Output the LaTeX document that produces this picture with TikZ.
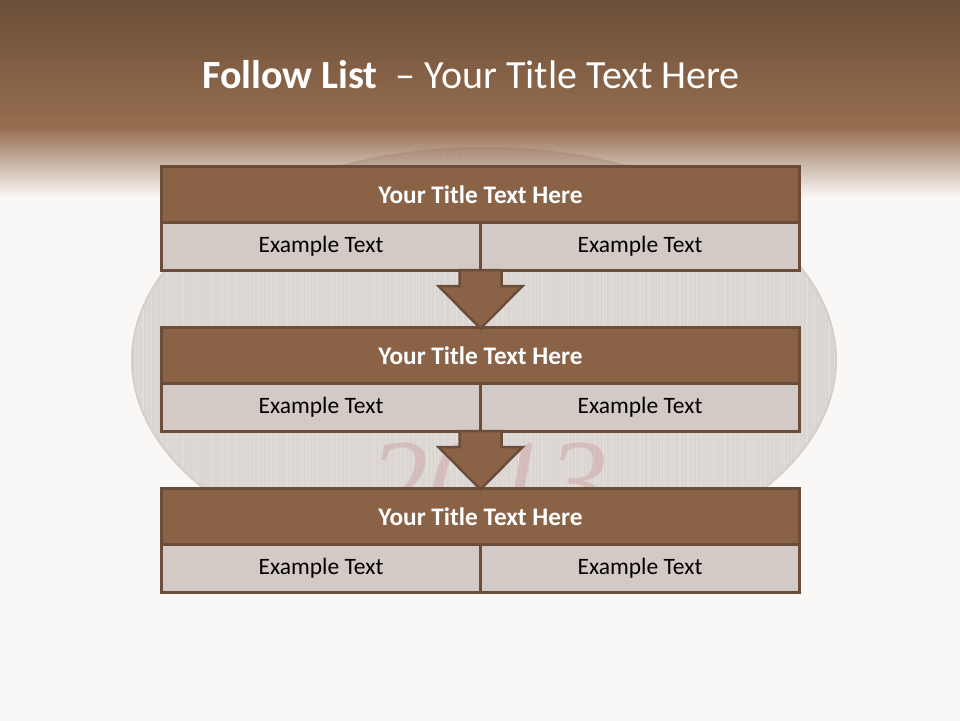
\documentclass[tikz,border=0pt]{standalone}
\usepackage{fontspec}
\setmainfont{Carlito}
\newfontfamily\yearfont{Liberation Serif}
\usetikzlibrary{fadings,calc}
\tikzfading[name=fadedown, top color=transparent!0, bottom color=transparent!100]
\definecolor{bg}{HTML}{FAF8F6}
\definecolor{hdtop}{HTML}{694D37}
\definecolor{hdbot}{HTML}{976E50}
\definecolor{tbar}{HTML}{8A6246}
\definecolor{bord}{HTML}{6B4D3A}
\definecolor{cell}{HTML}{D3CAC5}
\definecolor{ellfill}{HTML}{DBD6D2}
\definecolor{ellline}{HTML}{D6CEC8}
\definecolor{yearcol}{HTML}{C99A98}
\begin{document}
\begin{tikzpicture}[x=1pt,y=-1pt,
  titlebar/.style={draw=bord, fill=tbar, line width=3pt, minimum width=638pt, minimum height=56pt,
    inner sep=0pt, outer sep=0pt, anchor=north west, text=white, font=\bfseries\fontsize{25.3}{28}\selectfont},
  cellbox/.style={draw=bord, fill=cell, line width=3pt, minimum height=47.5pt,
    inner sep=0pt, outer sep=0pt, anchor=north west, text=black, font=\fontsize{23.5}{28}\selectfont},
  blockarrow/.style={fill=tbar, draw=bord, line width=2.5pt, line join=miter}]
\useasboundingbox (0,0) rectangle (960,720);
\fill[bg] (-5,-5) rectangle (965,725);
% background ellipse with texture
\fill[ellfill, draw=ellline, line width=2pt] (484,360) ellipse [x radius=352, y radius=212];
\begin{scope}
  \clip (484,360) ellipse [x radius=351, y radius=211];
  \pgfmathsetseed{7}
  \foreach \i in {0,...,230} {
    \pgfmathsetmacro{\xx}{132+3.05*\i+1.5*rand}
    \pgfmathsetmacro{\op}{0.10+0.10*rnd}
    \draw[white, opacity=\op, line width=0.9pt] (\xx,148) -- (\xx,572);
  }
  \node[text=yearcol, opacity=0.42, font=\yearfont\itshape\fontsize{120}{120}\selectfont, anchor=base] (year) at (488,522) {2013};
\end{scope}
% header
\shade[top color=hdtop, bottom color=hdbot] (-5,-5) rectangle (965,128);
\fill[hdbot, path fading=fadedown] (-5,127) rectangle (965,197);
\node[text=white, anchor=base, font=\fontsize{40}{48}\selectfont] (title) at (471,88)
  {\textbf{Follow List}\ \ – Your Title Text Here};
% boxes
\foreach \k/\yy in {1/166.5,2/327.5,3/488.5} {
  \node[titlebar] (t\k) at (161.5,\yy) {Your Title Text Here};
  \node[cellbox, minimum width=319pt] (c\k a) at (161.5,\yy+56) {Example Text};
  \node[cellbox, minimum width=319pt] (c\k b) at (480.5,\yy+56) {Example Text};
}
% arrows
\foreach \k/\n in {1/2,2/3} {
  \draw[blockarrow] ([xshift=-21pt]c\k a.south east) -- ([xshift=21pt]c\k a.south east)
    -- ([xshift=21pt,yshift=-16pt]c\k a.south east) -- ([xshift=42pt,yshift=-16pt]c\k a.south east)
    -- ([yshift=-1pt]t\n.north) -- ([xshift=-42pt,yshift=-16pt]c\k a.south east)
    -- ([xshift=-21pt,yshift=-16pt]c\k a.south east) -- cycle;
}
\end{tikzpicture}
\end{document}
